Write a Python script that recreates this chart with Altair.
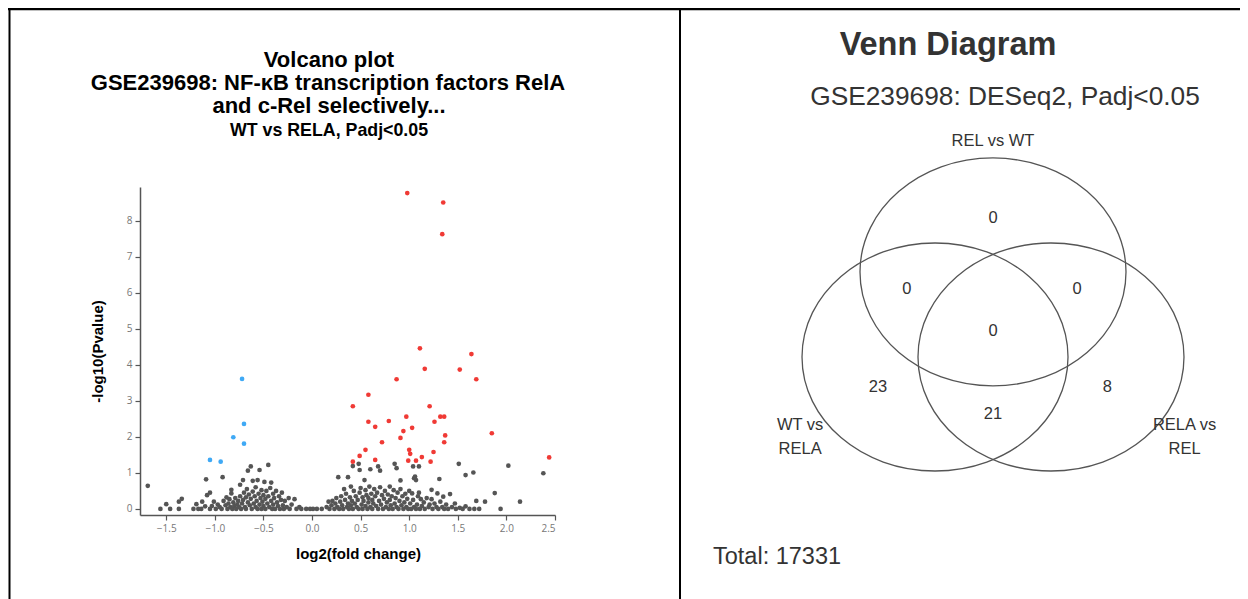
import altair as alt
import pandas as pd

# ---------------- Volcano plot data (log2 fold change, -log10 p) ----------------
up_points = [(0.98, 8.77), (1.35, 8.51), (1.34, 7.63), (1.11, 4.46), (1.64, 4.30), (1.16, 3.89),
             (1.52, 3.87), (0.87, 3.60), (1.69, 3.60), (0.58, 3.17), (0.42, 2.85), (1.21, 2.85),
             (0.58, 2.42), (0.65, 2.28), (0.79, 2.44), (0.97, 2.56), (1.32, 2.56), (1.36, 2.56),
             (1.26, 2.42), (0.94, 2.16), (1.03, 2.25), (1.85, 2.10), (1.37, 2.04), (0.91, 1.97),
             (0.72, 1.85), (1.36, 1.85), (0.55, 1.64), (1.00, 1.64), (1.01, 1.53), (1.25, 1.58),
             (0.49, 1.47), (0.65, 1.36), (0.99, 1.34), (1.07, 1.34), (1.13, 1.44), (1.22, 1.31),
             (2.44, 1.43), (0.42, 1.31)]

down_points = [(-0.72, 3.61), (-0.70, 2.36), (-0.81, 1.99), (-0.70, 1.81), (-1.05, 1.36), (-0.94, 1.31)]

ns_left = [(-1.69, 0.64), (-1.56, 0.00), (-1.50, 0.13), (-1.46, 0.00), (-1.37, 0.00), (-1.37, 0.20),
           (-1.34, 0.28), (-1.22, 0.00), (-1.19, 0.13), (-1.17, 0.00), (-1.14, 0.00), (-1.13, 0.20),
           (-1.10, 0.07), (-1.09, 0.82), (-1.08, 0.38), (-1.05, 0.45), (-1.05, 0.00), (-1.03, 0.08),
           (-1.01, 0.20), (-0.99, 0.00), (-0.97, 0.12), (-0.95, 0.05), (-0.93, 0.00), (-0.92, 0.88),
           (-0.91, 0.22), (-0.89, 0.10), (-0.88, 0.32), (-0.87, 0.00), (-0.86, 0.15), (-0.85, 0.27),
           (-0.84, 0.05), (-0.83, 0.53), (-0.83, 0.43), (-0.82, 0.00), (-0.81, 0.18), (-0.80, 0.08),
           (-0.79, 0.30), (-0.78, 0.00), (-0.77, 0.12), (-0.76, 0.22), (-0.75, 0.05), (-0.74, 0.67),
           (-0.74, 0.35), (-0.73, 0.00), (-0.72, 0.15), (-0.71, 0.80), (-0.71, 0.25), (-0.70, 0.45),
           (-0.69, 0.05), (-0.68, 0.32), (-0.68, 0.00), (-0.67, 0.55), (-0.66, 1.06), (-0.66, 0.18),
           (-0.65, 0.40), (-0.64, 0.10), (-0.63, 1.18), (-0.63, 0.28), (-0.62, 0.00), (-0.61, 0.78),
           (-0.61, 0.48), (-0.60, 0.15), (-0.59, 0.35), (-0.58, 0.05), (-0.58, 0.60), (-0.57, 0.22),
           (-0.56, 0.80), (-0.56, 0.00), (-0.55, 0.42), (-0.54, 0.12), (-0.54, 1.08), (-0.53, 0.30),
           (-0.52, 0.52), (-0.52, 0.00), (-0.51, 0.20), (-0.50, 0.38), (-0.50, 0.08), (-0.49, 0.75),
           (-0.48, 0.28), (-0.48, 0.00), (-0.47, 0.50), (-0.46, 0.15), (-0.45, 1.22), (-0.45, 0.35),
           (-0.44, 0.05), (-0.43, 0.58), (-0.42, 0.73), (-0.42, 0.22), (-0.41, 0.00), (-0.40, 0.42),
           (-0.40, 0.12), (-0.39, 0.30), (-0.38, 0.00), (-0.37, 0.50), (-0.36, 0.18), (-0.35, 0.08),
           (-0.34, 0.35), (-0.33, 0.00), (-0.32, 0.25), (-0.31, 0.45), (-0.30, 0.10), (-0.29, 0.00),
           (-0.28, 0.22), (-0.26, 0.05), (-0.24, 0.30), (-0.23, 0.00), (-0.21, 0.12), (-0.18, 0.27),
           (-0.16, 0.00), (-0.13, 0.05), (-0.11, 0.00), (-0.06, 0.00), (-0.02, 0.00), (0.01, 0.00),
           (0.05, 0.00), (0.10, 0.00)]

ns_right = [(0.15, 0.05), (0.17, 0.20), (0.18, 0.00), (0.20, 0.10), (0.21, 0.22), (0.23, 0.00),
            (0.24, 0.15), (0.25, 0.30), (0.26, 0.05), (0.27, 0.88), (0.28, 0.00), (0.29, 0.20),
            (0.30, 0.35), (0.31, 0.10), (0.32, 0.00), (0.33, 0.55), (0.34, 0.25), (0.35, 0.42),
            (0.36, 0.05), (0.37, 0.88), (0.37, 0.15), (0.38, 0.00), (0.39, 0.32), (0.40, 0.62),
            (0.40, 0.10), (0.41, 0.22), (0.42, 1.19), (0.42, 0.00), (0.43, 0.50), (0.44, 0.15),
            (0.45, 0.35), (0.46, 0.05), (0.47, 0.25), (0.48, 1.25), (0.48, 0.00), (0.49, 1.08),
            (0.49, 0.45), (0.50, 0.58), (0.51, 0.12), (0.52, 0.32), (0.52, 0.00), (0.53, 0.22),
            (0.54, 0.80), (0.55, 0.08), (0.55, 0.52), (0.56, 0.38), (0.57, 0.00), (0.58, 0.18),
            (0.58, 0.30), (0.59, 0.62), (0.60, 1.10), (0.60, 0.05), (0.61, 0.42), (0.62, 0.25),
            (0.62, 0.00), (0.63, 0.15), (0.64, 0.55), (0.65, 0.35), (0.66, 0.08), (0.67, 0.45),
            (0.68, 1.18), (0.68, 0.00), (0.69, 0.22), (0.70, 1.06), (0.70, 0.60), (0.71, 0.12),
            (0.72, 0.38), (0.73, 0.00), (0.74, 0.28), (0.75, 0.50), (0.76, 0.05), (0.77, 0.18),
            (0.78, 0.40), (0.79, 0.00), (0.80, 0.62), (0.80, 0.25), (0.81, 0.10), (0.82, 0.35),
            (0.83, 0.00), (0.84, 0.52), (0.85, 1.25), (0.85, 0.15), (0.86, 0.30), (0.87, 1.13),
            (0.87, 0.05), (0.88, 0.45), (0.89, 0.00), (0.90, 0.22), (0.91, 0.79), (0.91, 0.55),
            (0.92, 0.10), (0.93, 0.35), (0.94, 0.00), (0.95, 0.18), (0.96, 0.42), (0.97, 0.05),
            (0.98, 0.28), (0.99, 0.00), (1.00, 0.50), (1.01, 0.15), (1.02, 0.00), (1.03, 0.43),
            (1.04, 1.18), (1.04, 0.25), (1.05, 0.85), (1.05, 0.05), (1.06, 0.90), (1.07, 0.80),
            (1.07, 0.00), (1.08, 0.12), (1.09, 0.35), (1.10, 1.18), (1.10, 0.45), (1.11, 0.00),
            (1.12, 0.27), (1.13, 0.08), (1.15, 0.18), (1.16, 0.00), (1.18, 0.30), (1.20, 0.05),
            (1.21, 0.12), (1.23, 0.53), (1.23, 0.27), (1.24, 0.00), (1.26, 0.15), (1.28, 0.05),
            (1.29, 0.43), (1.30, 0.00), (1.31, 0.83), (1.32, 0.20), (1.34, 0.05), (1.35, 0.34),
            (1.36, 0.00), (1.38, 0.12), (1.40, 0.00), (1.42, 0.41), (1.44, 0.05), (1.47, 0.15),
            (1.48, 0.00), (1.51, 1.25), (1.52, 0.03), (1.55, 0.00), (1.58, 0.94), (1.58, 0.07),
            (1.62, 0.00), (1.66, 1.01), (1.67, 0.00), (1.69, 0.22), (1.72, 0.00), (1.78, 0.20),
            (1.88, 0.44), (1.94, 0.00), (2.02, 1.20), (2.14, 0.20), (2.38, 0.99)]

x_ticks = [-1.5, -1.0, -0.5, 0.0, 0.5, 1.0, 1.5, 2.0, 2.5]
y_ticks = [0, 1, 2, 3, 4, 5, 6, 7, 8]

volcano_titles = ["Volcano plot", "GSE239698: NF-\u03baB transcription factors RelA",
                  "and c-Rel selectively...", "WT vs RELA, Padj<0.05"]

# ---------------- Venn diagram data ----------------
venn_sets = ["REL vs WT", "WT vs\nRELA", "RELA vs\nREL"]
venn_region_names = ["REL vs WT only", "REL vs WT & WT vs RELA", "REL vs WT & RELA vs REL",
                     "all three", "WT vs RELA only", "WT vs RELA & RELA vs REL", "RELA vs REL only"]
venn_counts = [0, 0, 0, 0, 23, 21, 8]
venn_total = 17331
venn_title = "Venn Diagram"
venn_subtitle = "GSE239698: DESeq2, Padj<0.05"

# ---------------- layout (unit Venn geometry, pixel scales) ----------------
circle_centers = {"REL vs WT": (0.0, 0.746), "WT vs\nRELA": (-0.436, 0.0), "RELA vs\nREL": (0.436, 0.0)}
set_label_pos = {"REL vs WT": (0.0, 1.895), "WT vs\nRELA": (-1.45, -0.60), "RELA vs\nREL": (1.44, -0.60)}
region_label_pos = [(0.0, 1.22), (-0.647, 0.596), (0.632, 0.596), (0.0, 0.228),
                    (-0.865, -0.263), (0.0, -0.50), (0.86, -0.263)]

W, H = 1232, 591
FONT = "Liberation Sans"
GRAY_TXT = "#333333"

rows = []
for lfc, p in ns_left + ns_right:
    rows.append({"lfc": lfc, "nlp": p, "sig": "ns"})
for lfc, p in down_points:
    rows.append({"lfc": lfc, "nlp": p, "sig": "down"})
for lfc, p in up_points:
    rows.append({"lfc": lfc, "nlp": p, "sig": "up"})
volcano_df = pd.DataFrame(rows)

points = alt.Chart(volcano_df).mark_circle(size=22, opacity=1).encode(
    x=alt.X("lfc:Q",
            scale=alt.Scale(domain=[-1.77, 2.5], range=[132, 547], nice=False, zero=False),
            axis=alt.Axis(title="log2(fold change)", orient="bottom", offset=-84, values=x_ticks,
                          format=".1f", grid=False, domainColor="#555", domainWidth=1.5,
                          tickColor="#555", tickSize=5, tickWidth=1.2, labelColor="#777",
                          labelFont="Open Sans", labelFontSize=10, labelPadding=3,
                          titleFont=FONT, titleFontSize=15, titleFontWeight="bold", titleColor="#000",
                          titleX=350, titleY=38, titleBaseline="middle", titleAnchor="middle")),
    y=alt.Y("nlp:Q",
            scale=alt.Scale(domain=[-0.17, 8.94], range=[507, 179], nice=False, zero=False),
            axis=alt.Axis(title="-log10(Pvalue)", orient="left", offset=-132, values=y_ticks,
                          format="d", grid=False, domainColor="#555", domainWidth=1.5,
                          tickColor="#555", tickSize=5, tickWidth=1.2, labelColor="#777",
                          labelFont="Open Sans", labelFontSize=10, labelPadding=3,
                          titleFont=FONT, titleFontSize=15, titleFontWeight="bold", titleColor="#000",
                          titleX=-43, titleY=343, titleBaseline="middle", titleAnchor="middle",
                          titleAngle=270)),
    color=alt.Color("sig:N", scale=alt.Scale(domain=["down", "ns", "up"],
                                             range=["#3fa9f5", "#555555", "#f03a35"]), legend=None),
)

one = pd.DataFrame({"k": [0]})


def txt(s, x, y, size, weight="normal", color="#000", align="center"):
    return alt.Chart(one).mark_text(text=s, font=FONT, fontSize=size, fontWeight=weight, color=color,
                                    align=align, baseline="middle").encode(
        x=alt.value(x), y=alt.value(y))


title_layers = [
    txt(volcano_titles[0], 321, 52, 22, "bold"),
    txt(volcano_titles[1], 320, 75, 22, "bold"),
    txt(volcano_titles[2], 321, 98, 22, "bold"),
    txt(volcano_titles[3], 321, 123, 17.8, "bold"),
    txt(venn_title, 940, 37, 32.5, "bold", GRAY_TXT),
    txt(venn_subtitle, 997, 89, 26.3, "normal", GRAY_TXT),
    txt(f"Total: {venn_total}", 705, 549, 23.5, "normal", GRAY_TXT, "left"),
]

vx = alt.Scale(domain=[-1, 1], range=[852, 1118], nice=False, zero=False)
vy = alt.Scale(domain=[-1, 1], range=[463, 235], nice=False, zero=False)

circ_df = pd.DataFrame({"set": venn_sets,
                        "cx": [circle_centers[s][0] for s in venn_sets],
                        "cy": [circle_centers[s][1] for s in venn_sets]})
ELLIPSE = "M-1,0A1,0.857,0,1,1,1,0A1,0.857,0,1,1,-1,0Z"
circles = alt.Chart(circ_df).mark_point(shape=ELLIPSE, filled=False, size=266 ** 2, stroke="#555",
                                        strokeWidth=1.3, opacity=1).encode(
    x=alt.X("cx:Q", scale=vx, axis=None), y=alt.Y("cy:Q", scale=vy, axis=None))

set_df = pd.DataFrame({"set": venn_sets,
                       "lx": [set_label_pos[s][0] for s in venn_sets],
                       "ly": [set_label_pos[s][1] for s in venn_sets]})
set_labels = alt.Chart(set_df).mark_text(font=FONT, fontSize=16.5, color=GRAY_TXT, lineBreak="\n",
                                         lineHeight=24, align="center", baseline="middle").encode(
    x=alt.X("lx:Q", scale=vx, axis=None), y=alt.Y("ly:Q", scale=vy, axis=None), text="set:N")

reg_df = pd.DataFrame({"region": venn_region_names, "count": venn_counts,
                       "rx": [p[0] for p in region_label_pos], "ry": [p[1] for p in region_label_pos]})
reg_labels = alt.Chart(reg_df).mark_text(font=FONT, fontSize=16.5, color=GRAY_TXT, align="center",
                                         baseline="middle").encode(
    x=alt.X("rx:Q", scale=vx, axis=None), y=alt.Y("ry:Q", scale=vy, axis=None), text="count:Q")

borders = [
    alt.Chart(one).mark_rule(color="#000", strokeWidth=2.5).encode(
        x=alt.value(0), x2=alt.value(W), y=alt.value(1)),
    alt.Chart(one).mark_rule(color="#000", strokeWidth=2).encode(
        x=alt.value(1.5), y=alt.value(0), y2=alt.value(H)),
    alt.Chart(one).mark_rule(color="#000", strokeWidth=2).encode(
        x=alt.value(672), y=alt.value(0), y2=alt.value(H)),
]

chart = alt.layer(*borders, points, *title_layers, circles, set_labels, reg_labels).resolve_scale(
    x="independent", y="independent").properties(
    width=W, height=H, padding=0, autosize=alt.AutoSizeParams(type="none"),
    background="white").configure_view(stroke=None)

chart.save("out.html", embed_options={"renderer": "svg", "actions": False})
